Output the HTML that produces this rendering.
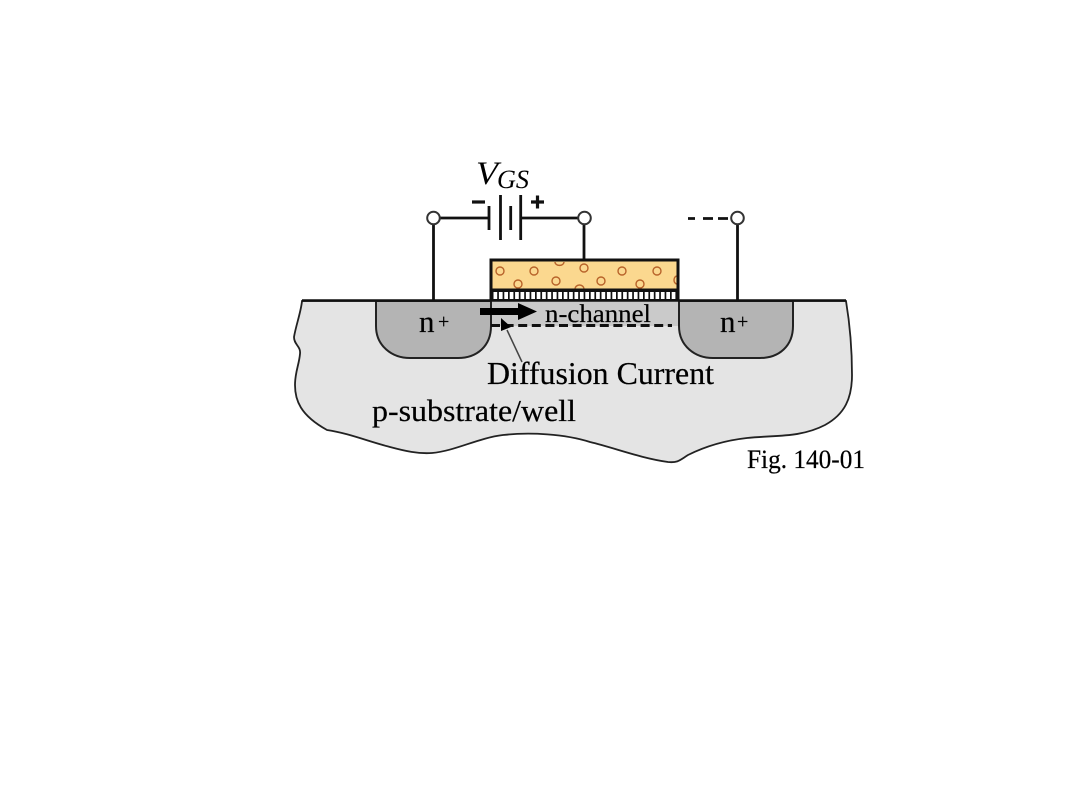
<!DOCTYPE html>
<html><head><meta charset="utf-8"><style>
html,body{margin:0;padding:0;background:#fff;width:1080px;height:810px;overflow:hidden}
svg{display:block;filter:blur(0.35px)}
text{font-family:"Liberation Serif",serif;fill:#000;stroke:#000;stroke-width:0.2px}
</style></head><body>
<svg width="1080" height="810" viewBox="0 0 1080 810" xmlns="http://www.w3.org/2000/svg">
<!-- substrate -->
<path d="M302,301 C301,312 296,325 294,337 C294,345 301,346 300,354 C299,365 295,372 295,385 C295,400 300,415 327,430 C348,433 370,442 390,447 C405,451 418,454 432,453 C455,451 478,438 503,435 C530,432 565,434 590,442 C615,448 640,458 668,462 C678,463 680,460 688,455 C700,449 720,441 747,438 C775,435 800,438 825,425 C845,414 852,398 852,375 C852,350 850,325 846,301 Z" fill="#e4e4e4" stroke="#222" stroke-width="1.800"/>
<!-- channel -->
<rect x="491" y="301" width="188" height="25" fill="#cacaca"/>
<!-- n+ wells -->
<path d="M376,301 V326 C376,346 392,358 410,358 H458 C477,358 491,346 491,326 V301 Z" fill="#b4b4b4" stroke="#222" stroke-width="2"/>
<path d="M679,301 V326 C679,346 695,358 713,358 H760 C779,358 793,346 793,326 V301 Z" fill="#b4b4b4" stroke="#222" stroke-width="2"/>
<!-- gate -->
<rect x="491" y="260.500" width="187" height="29" fill="#fbd88f"/>
<g fill="none" stroke="#b8632a" stroke-width="1.400">
<circle cx="500" cy="271" r="4"/><circle cx="534" cy="271" r="4"/><circle cx="584" cy="268" r="4"/><circle cx="622" cy="271" r="4"/><circle cx="657" cy="271" r="4"/>
<circle cx="518" cy="284" r="4"/><circle cx="556" cy="281" r="4"/><circle cx="601" cy="281" r="4"/><circle cx="640" cy="284" r="4"/>
<path d="M555,262 a4,3 0 0 0 9,0"/><path d="M575,289 a4.500,4 0 0 1 9,0"/><path d="M677,276 a3,4 0 0 0 0,8"/>
</g>
<rect x="491" y="260" width="187" height="30" fill="none" stroke="#111" stroke-width="3"/>
<!-- oxide -->
<rect x="491" y="290" width="187" height="10" fill="#111"/>
<path d="M493.500,295.500 H676" stroke="#fff" stroke-width="7" stroke-dasharray="3.700 1.700" fill="none"/>
<path d="M491,289 V301 M678,289 V301" stroke="#111" stroke-width="3"/>
<!-- surface -->
<path d="M302,300.500 H846" stroke="#111" stroke-width="2.600"/>
<!-- wires -->
<g stroke="#111" stroke-width="2.800" fill="none">
<path d="M433.500,218 H489"/><path d="M522,218 H585"/>
<path d="M433.500,218 V300"/><path d="M584,218 V260"/><path d="M737.500,218 V300"/>
</g>
<path d="M688,218.500 H728" stroke="#111" stroke-width="2.800" stroke-dasharray="7 8 10 5 10 99" fill="none"/>
<g stroke="#111" stroke-width="2.800">
<path d="M489,206 V230"/><path d="M500.500,195 V240"/><path d="M510.700,206 V230"/><path d="M520.700,195 V240"/>
</g>
<path d="M472,202 H485" stroke="#111" stroke-width="3.200"/>
<path d="M531,202 H544 M537.500,195.500 V208.500" stroke="#111" stroke-width="3.200"/>
<g fill="#fff" stroke="#333" stroke-width="2">
<circle cx="433.500" cy="218" r="6.300"/><circle cx="584.500" cy="218" r="6.300"/><circle cx="737.500" cy="218" r="6.300"/>
</g>
<!-- dashed line -->
<path d="M491,325.500 H672" stroke="#111" stroke-width="3" stroke-dasharray="9 4.600" fill="none"/>
<!-- arrows -->
<path d="M480,308 H518 V303 L537,311.500 L518,320 V315 H480 Z" fill="#000"/>
<path d="M501,318 L511,327 L501,331 Z" fill="#000"/>
<path d="M507,330 L522,362" stroke="#444" stroke-width="1.500"/>
<!-- labels -->
<text x="419" y="332" font-size="31">n</text><text x="438" y="328" font-size="20">+</text>
<text x="720" y="332" font-size="31">n</text><text x="737" y="328" font-size="20">+</text>
<text x="545" y="322" font-size="25" textLength="106" lengthAdjust="spacingAndGlyphs">n-channel</text>
<text x="487" y="384" font-size="31.500" textLength="227" lengthAdjust="spacingAndGlyphs">Diffusion Current</text>
<text x="372" y="421" font-size="31" textLength="204" lengthAdjust="spacingAndGlyphs">p-substrate/well</text>
<text x="747" y="468" font-size="26.500" textLength="118" lengthAdjust="spacingAndGlyphs">Fig. 140-01</text>
<text x="476" y="184" font-size="33" font-style="italic" textLength="22" lengthAdjust="spacingAndGlyphs" style="stroke-width:0">V</text>
<text x="497" y="188" font-size="26" font-style="italic" textLength="32" lengthAdjust="spacingAndGlyphs" style="stroke-width:0">GS</text>
</svg>
</body></html>
